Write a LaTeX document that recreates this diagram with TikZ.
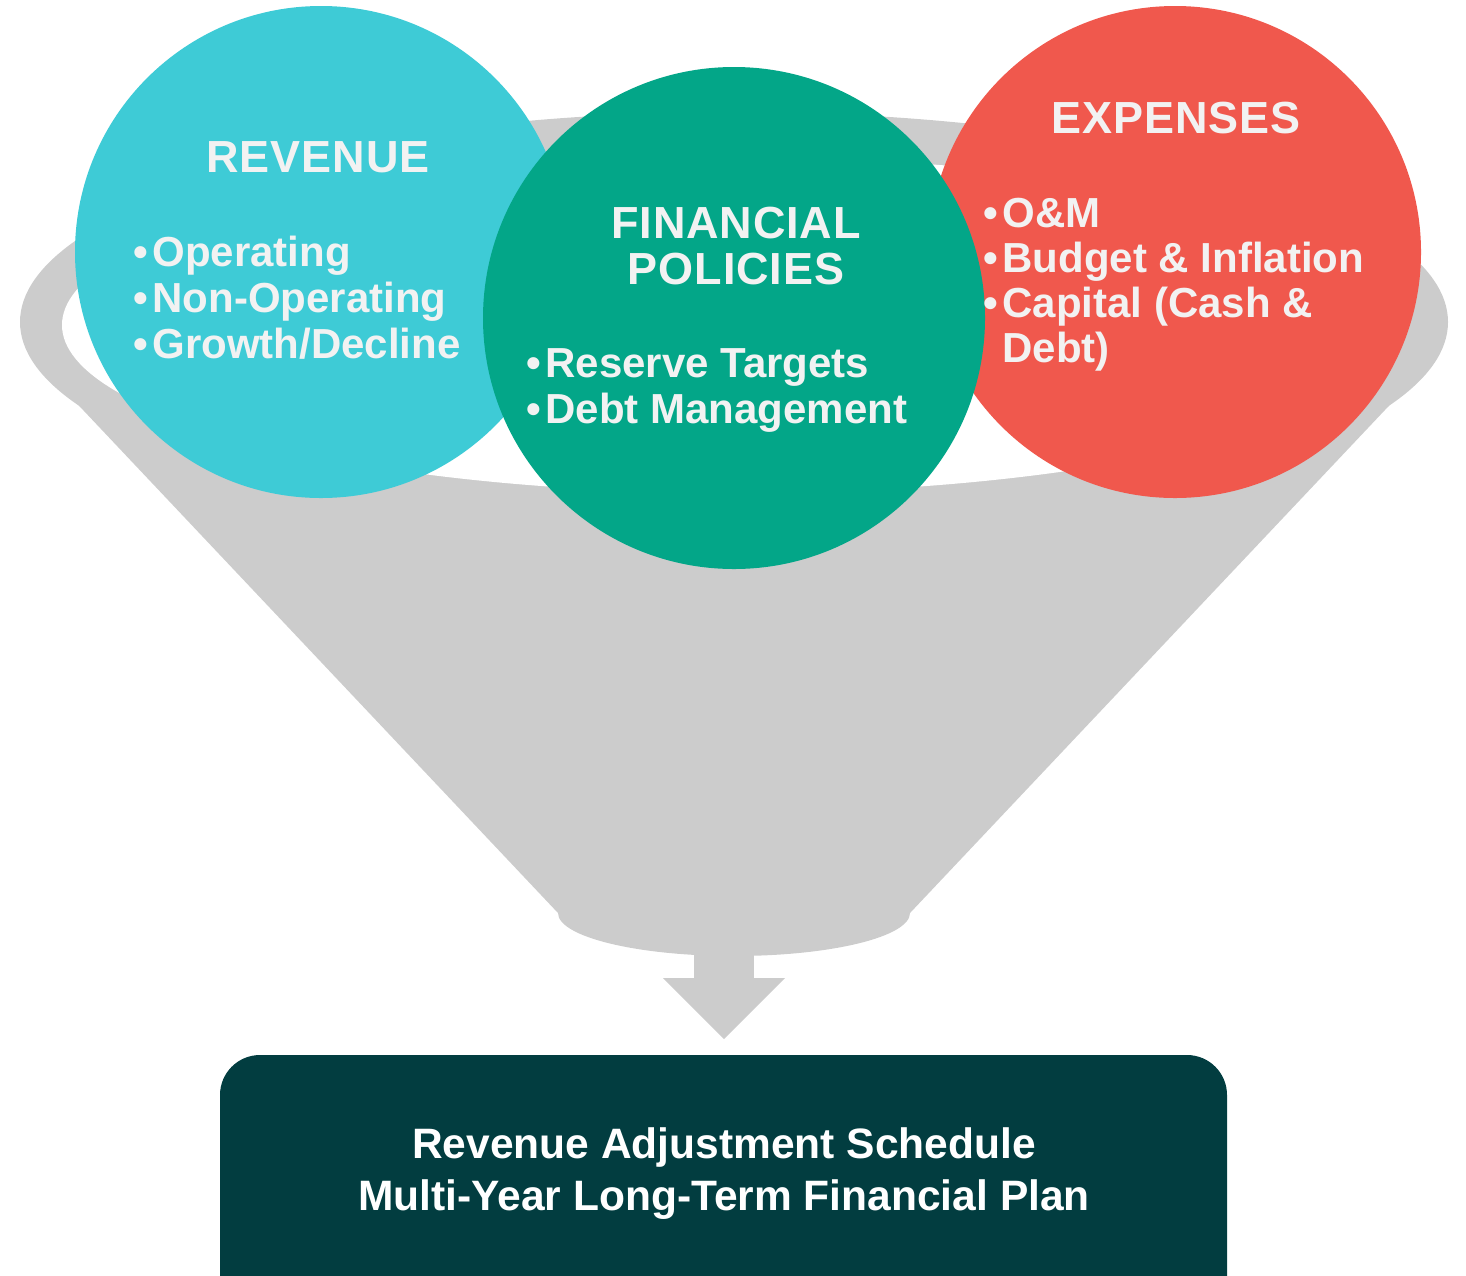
\documentclass[tikz,border=0pt]{standalone}
\usepackage{fontspec}
\setmainfont{Liberation Sans}
\newfontfamily\ttlfont[LetterSpace=2]{Liberation Sans}
\definecolor{funnelgray}{HTML}{CCCCCC}
\definecolor{revcyan}{HTML}{3ECBD6}
\definecolor{polteal}{HTML}{03A688}
\definecolor{expred}{HTML}{F0584D}
\definecolor{boxteal}{HTML}{023D40}
\definecolor{txtgray}{HTML}{F2F2F2}
\newcommand{\bul}{•\kern2.6pt}
\tikzset{
  ttl/.style={inner sep=0pt, anchor=base, text=txtgray, font=\ttlfont\bfseries\fontsize{25.6pt}{28pt}\selectfont},
  itm/.style={inner sep=0pt, anchor=base west, text=txtgray, font=\bfseries\fontsize{23.9pt}{26pt}\selectfont},
  btm/.style={inner sep=0pt, anchor=base, text=white, font=\bfseries\fontsize{24.2pt}{26pt}\selectfont},
}
\begin{document}
\begin{tikzpicture}[x=0.02cm,y=-0.02cm]
\useasboundingbox (0,0) rectangle (1466,1275);
\clip (0,0) rectangle (1466,1275);
% funnel
\fill[funnelgray] (734,322) ellipse [x radius=714, y radius=210];
\fill[funnelgray] (33,357) -- (558,913) -- (910,913) -- (1435,357) -- cycle;
\fill[funnelgray] (734,913) ellipse [x radius=176, y radius=43];
\fill[funnelgray] (694,940) rectangle (754,979);
\fill[funnelgray] (663,978) -- (785,978) -- (724,1039) -- cycle;
\fill[white] (734,325) ellipse [x radius=672, y radius=168];
% circles
\fill[revcyan] (321,252) circle [radius=246];
\fill[expred] (1175,252) circle [radius=246];
\fill[polteal] (734,318) circle [radius=251];
% revenue text
\node[ttl] (revt) at (318,172) {REVENUE};
\node[itm] (rev1) at (133,266) {\bul Operating};
\node[itm] (rev2) at (133,312) {\bul Non-Operating};
\node[itm] (rev3) at (133,358) {\bul Growth/Decline};
% financial policies text
\node[ttl] (polt1) at (736,238) {FINANCIAL};
\node[ttl] (polt2) at (736,284) {POLICIES};
\node[itm] (pol1) at (526,377) {\bul Reserve Targets};
\node[itm] (pol2) at (526,423) {\bul Debt Management};
% expenses text
\node[ttl] (expt) at (1176,133) {EXPENSES};
\node[itm] (exp1) at (983,227) {\bul O\&M};
\node[itm] (exp2) at (983,272) {\bul Budget \& Inflation};
\node[itm] (exp3) at (983,317) {\bul Capital (Cash \&};
\node[itm] (exp4) at (983,362) {\phantom{\bul}Debt)};
% bottom box
\fill[boxteal, rounded corners=0.8cm] (220,1055) rectangle (1227,1340);
\node[btm] (b1) at (724,1158) {Revenue Adjustment Schedule};
\node[btm] (b2) at (724,1210) {Multi-Year Long-Term Financial Plan};
\end{tikzpicture}
\end{document}
